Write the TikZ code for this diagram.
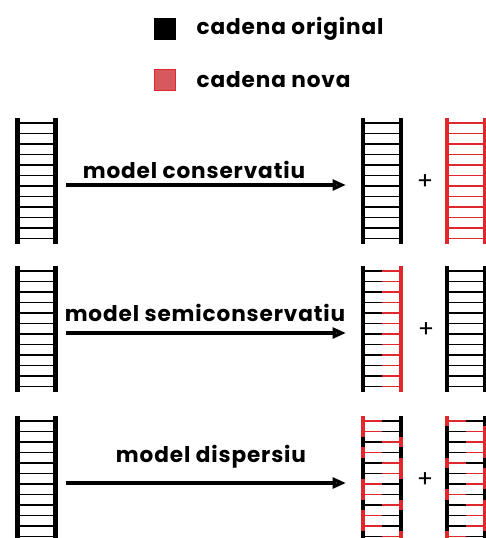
\documentclass[tikz,border=0pt]{standalone}
\usepackage{fontspec}
\setmainfont{Poppins}[LetterSpace=4]
\usetikzlibrary{positioning, arrows.meta}
\definecolor{vermell}{HTML}{E0282C}
\definecolor{vermellClar}{HTML}{D8595D}

% one ladder: x of left rail, top y, colour of left and right strand
\newcommand{\escala}[4]{%
  \draw[barana, #3] (#1, #2) -- (#1, #2+126);
  \draw[barana, #4] (#1+38, #2) -- (#1+38, #2+126);
  \foreach \k in {0,...,11} {
    \pgfmathsetmacro{\yy}{#2+5+10.5*\k}
    \draw[esglao, #3] (#1, \yy) -- (#1+19, \yy);
    \draw[esglao, #4] (#1+19, \yy) -- (#1+38, \yy);
  }
}
% mixed ladder: one entry per rung, 1 = new strand on the left
\newcommand{\escalaDispersa}[3]{%
  \foreach \c [count=\k from 0] in {#3} {
    \pgfmathsetmacro{\yy}{#2+5+10.5*\k}
    \ifnum\c=1 \def\colE{vermell}\def\colD{black}\else\def\colE{black}\def\colD{vermell}\fi
    \draw[barana, \colE] (#1, \yy-5.25) -- (#1, \yy+5.25);
    \draw[barana, \colD] (#1+38, \yy-5.25) -- (#1+38, \yy+5.25);
    \draw[esglao, \colE] (#1, \yy) -- (#1+19, \yy);
    \draw[esglao, \colD] (#1+19, \yy) -- (#1+38, \yy);
  }
}

\begin{document}
\begin{tikzpicture}[x=0.75pt, y=-0.75pt,
    barana/.style={line width=3pt},
    esglao/.style={line width=1.2pt},
    quadre/.style={minimum size=16pt, inner sep=0pt},
    etiqueta/.style={font=\fontsize{16.2}{19}\selectfont\bfseries},
    fletxa/.style={line width=2.5pt, -{Triangle[open, length=10pt, width=8pt]}},
    mes/.style={font=\fontsize{18}{19}\selectfont}]
  \useasboundingbox (0,0) rectangle (485,538);

  % Legend
  \node[quadre, fill=black] (llegNegre) at (165,29) {};
  \node[quadre, fill=vermellClar, draw=vermell, line width=1pt] (llegVermell) at (165,80) {};
  \node[etiqueta, anchor=west] (textNegre) at (192,29) {cadena original};
  \node[etiqueta, anchor=west] (textVermell) at (192,80) {cadena nova};

  % Parent molecules
  \begin{scope}[barana/.append style={line width=3.75pt}]
    \escala{17.5}{118}{black}{black}
    \escala{17.5}{266}{black}{black}
    \escala{17.5}{416}{black}{black}
  \end{scope}

  % Model 1: conservative
  \coordinate (ini1) at (66,185);
  \coordinate (fi1) at (346,185);
  \draw[fletxa] (ini1) -- (fi1);
  \node[etiqueta] (model1) at (194,170) {model conservatiu};
  \escala{363}{118}{black}{black}
  \node[mes] (mes1) at (425,182) {+};
  \escala{447}{118}{vermell}{vermell}

  % Model 2: semiconservative
  \coordinate (ini2) at (66,333);
  \coordinate (fi2) at (346,333);
  \draw[fletxa] (ini2) -- (fi2);
  \node[etiqueta] (model2) at (205,313) {model semiconservatiu};
  \escala{363}{266}{black}{vermell}
  \node[mes] (mes2) at (426,330) {+};
  \escala{447}{266}{black}{black}

  % Model 3: dispersive
  \coordinate (ini3) at (66,483);
  \coordinate (fi3) at (346,483);
  \draw[fletxa] (ini3) -- (fi3);
  \node[etiqueta] (model3) at (211,457) {model dispersiu};
  \escalaDispersa{363}{416}{1,1,0,1,0,0,1,1,0,1,1,0}
  \node[mes] (mes3) at (425,480) {+};
  \escalaDispersa{447}{416}{1,0,0,0,1,0,0,1,0,0,0,1}
\end{tikzpicture}
\end{document}
